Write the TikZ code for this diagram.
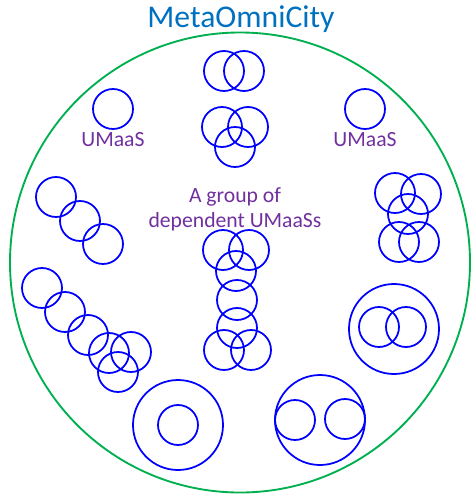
\documentclass[tikz,border=0pt]{standalone}
\usepackage{fontspec}
\setmainfont{Carlito}
\usetikzlibrary{positioning}
\definecolor{cityblue}{RGB}{0,112,192}
\definecolor{citygreen}{RGB}{0,176,80}
\definecolor{umaaspurple}{RGB}{112,48,160}
\definecolor{ringblue}{RGB}{0,0,255}

\begin{document}
\begin{tikzpicture}[x=0.03cm, y=-0.03cm,
    umaas/.style={circle, draw=ringblue, line width=1.5pt, minimum size=1.2cm, inner sep=0pt},
    bigumaas/.style={umaas, minimum size=2.7cm},
    lbl/.style={text=umaaspurple, font=\fontsize{18.5}{21.5}\selectfont, align=center}]

      \useasboundingbox (0,0) rectangle (471,495);

      % the city
      \node [circle, draw=citygreen, line width=1.6pt, minimum size=13.8cm, inner sep=0pt] at (240,262.5) (city) {};
      \node [text=cityblue, font=\fontsize{27}{30}\selectfont, anchor=base] at (241,27) (title) {MetaOmniCity};

      % single UMaaSs
      \node [umaas] at (113,109) (left) {};
      \node [umaas] at (365,109) (right) {};
      \node [lbl, anchor=base] at (113,146) (leftlbl) {UMaaS};
      \node [lbl, anchor=base] at (365,146) (rightlbl) {UMaaS};

      % top groups
      \node [umaas] at (224,71) (t1) {};
      \node [umaas] at (244,71) (t2) {};
      \node [umaas] at (222,127) (s1) {};
      \node [umaas] at (248,127) (s2) {};
      \node [umaas] at (235,147) (s3) {};

      \node [lbl] at (235,209) (grouplbl) {A group of\\dependent UMaaSs};

      % left chains
      \node [umaas] at (56,197) (a1) {};
      \node [umaas] at (80,221) (a2) {};
      \node [umaas] at (103,244) (a3) {};

      \node [umaas] at (42,288) (b1) {};
      \node [umaas] at (65,312) (b2) {};
      \node [umaas] at (88,335) (b3) {};
      \node [umaas] at (109,353) (b4) {};
      \node [umaas] at (131,352) (b5) {};
      \node [umaas] at (118,372) (b6) {};

      % middle column
      \node [umaas] at (223,250) (m1) {};
      \node [umaas] at (249,250) (m2) {};
      \node [umaas] at (236,271) (m3) {};
      \node [umaas] at (237,300) (m4) {};
      \node [umaas] at (237,328) (m5) {};
      \node [umaas] at (224,350) (m6) {};
      \node [umaas] at (251,350) (m7) {};

      % right group
      \node [umaas] at (395,193) (r1) {};
      \node [umaas] at (421,194) (r2) {};
      \node [umaas] at (408,214) (r3) {};
      \node [umaas] at (399,242) (r4) {};
      \node [umaas] at (419,242) (r5) {};

      % nested UMaaSs
      \node [bigumaas] at (394,329) (n1) {};
      \node [umaas] at (379,327) (n1a) {};
      \node [umaas] at (406,327) (n1b) {};

      \node [bigumaas] at (178,425) (n2) {};
      \node [umaas] at (178,425) (n2a) {};

      \node [bigumaas] at (320,420) (n3) {};
      \node [umaas] at (295,420) (n3a) {};
      \node [umaas] at (345,419) (n3b) {};
    \end{tikzpicture}
\end{document}
